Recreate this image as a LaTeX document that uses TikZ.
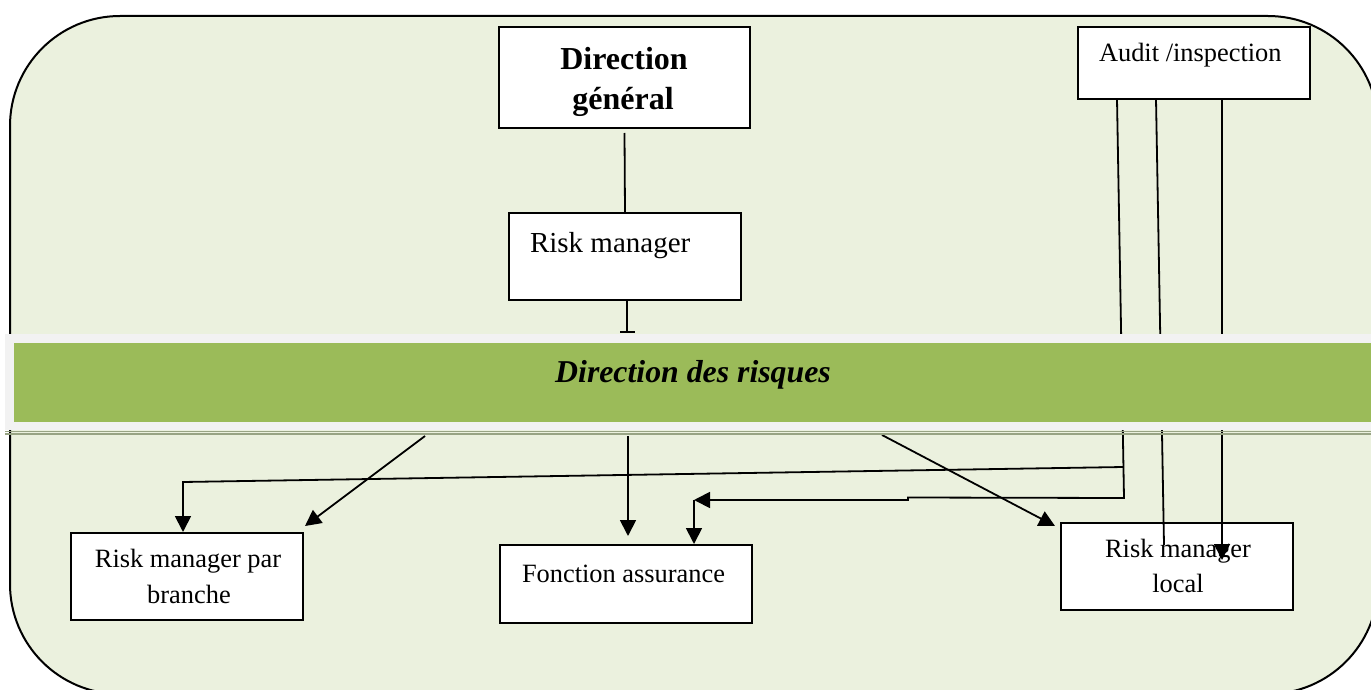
\documentclass[tikz,border=0pt]{standalone}
\usepackage{fontspec}
\setmainfont{Liberation Serif}
\usetikzlibrary{arrows.meta,calc}
\definecolor{panel}{HTML}{EBF1DE}
\definecolor{bandgray}{HTML}{F2F2F2}
\definecolor{bandgreen}{HTML}{9BBB59}
\definecolor{bandedge}{HTML}{98A484}
\pgfdeclarelayer{background}
\pgfdeclarelayer{foreground}
\pgfsetlayers{background,main,foreground}
\tikzset{
  box/.style={draw=black, line width=1pt, fill=white, inner sep=0pt, outer sep=0pt, anchor=north west},
  conn/.style={line width=0.9pt},
  arr/.style={conn, -{Triangle[length=8pt,width=8pt]}},
  lbl/.style={inner sep=0pt, outer sep=0pt, anchor=base, font=\fontsize{13.2pt}{15pt}\selectfont},
  title/.style={lbl, font=\bfseries\fontsize{16pt}{18pt}\selectfont},
}
\begin{document}
\begin{tikzpicture}[x=0.5pt,y=-0.5pt]
\useasboundingbox (0,0) rectangle (1371,690);

% rounded green panel
\begin{pgfonlayer}{background}
\draw[fill=panel, line width=1pt, rounded corners=55pt] (10,16) rectangle (1378,694);
\end{pgfonlayer}

% central band
\begin{pgfonlayer}{foreground}
\node[fill=bandgray, inner sep=0pt, outer sep=0pt, minimum width=687.5pt, minimum height=48pt, anchor=north west] (band) at (5,334) {};
\fill[bandgreen] ($(band.north west)+(9,9)$) rectangle ($(band.south east)+(0,-8)$);
\draw[bandedge, line width=0.7pt] ($(band.south west)+(0,1.5)$) -- ($(band.south east)+(0,1.5)$);
\draw[bandedge, line width=0.8pt] ($(band.south west)+(0,4)$) -- ($(band.south east)+(0,4)$);
\node[inner sep=0pt, anchor=base, font=\bfseries\itshape\fontsize{15.9pt}{18pt}\selectfont] (bandtxt) at (693,382) {Direction des risques};
\end{pgfonlayer}

% boxes
\node[box, minimum width=125.5pt, minimum height=50.5pt] (dg) at (499,27) {};
\node[box, minimum width=116pt, minimum height=43.5pt] (rm) at (509,213) {};
\node[box, minimum width=116pt, minimum height=36pt] (au) at (1078,27) {};
\node[box, minimum width=116pt, minimum height=43.5pt] (rmb) at (71,533) {};
\node[box, minimum width=126pt, minimum height=39pt] (fa) at (500,545) {};
\node[box, minimum width=116pt, minimum height=43.5pt] (rml) at (1061,523) {};

% box texts
\node[title] (dg1) at (624,70) {Direction};
\node[title] (dg2) at (623,110) {général};
\node[lbl, anchor=base west, font=\fontsize{14.5pt}{16pt}\selectfont] (rmt) at (530,252) {Risk manager};
\node[lbl, anchor=base west] (aut) at (1099,62) {Audit /inspection};
\node[lbl] (rmb1) at (188,567) {Risk manager par};
\node[lbl] (rmb2) at (189,603) {branche};
\node[lbl, anchor=base west] (fat) at (522,582) {Fonction assurance};
\node[lbl] (rml1) at (1178,557) {Risk manager};
\node[lbl] (rml2) at (1178,592) {local};

% hierarchy links
\draw[conn] ($(dg.south)+(0,5)$) -- (rm.north);
\draw[conn, -{Bar[width=7.5pt]}] ($(rm.south)+(2,0)$) -- ($(rm.south |- band.north)+(2,-1)$);
\draw[arr] ($(fa.north |- band.south)+(2,6)$) -- ($(fa.north)+(2,-9)$);
\draw[arr] ($(band.south)+(-267.5,6)$) -- ($(rmb.north east)+(2,-7)$);
\draw[arr] ($(band.south)+(189.5,5)$) -- ($(rml.north west)+(-6,3)$);

% audit links
\coordinate (ka) at ($(au.south west)+(46,399)$);
\coordinate (kup) at ($(au.south west)+(45.5,368)$);
\coordinate (kb) at ($(ka)+(-216,-0.5)$);
\coordinate (kc) at ($(kb)+(0,2.5)$);
\coordinate (kd) at ($(fa.north)+(68,-45)$);
\coordinate (ke) at ($(rmb.north)+(-4,-51)$);

\draw[arr] ($(au.south west)+(39,0)$) -- (ka) -- (kb) -- (kc) -- (kd);
\draw[arr] (kd) -- ($(kd |- fa.north)+(0,-1)$);
\draw[arr] (kup) -- (ke) -- ($(ke |- rmb.north)+(0,-1)$);
\draw[conn] ($(au.south west)+(78,0)$) -- ($(rml.north west)+(103,22)$);
\draw[arr] ($(au.south west)+(144,0)$) -- ($(rml.north west)+(161,37)$);
\end{tikzpicture}
\end{document}
